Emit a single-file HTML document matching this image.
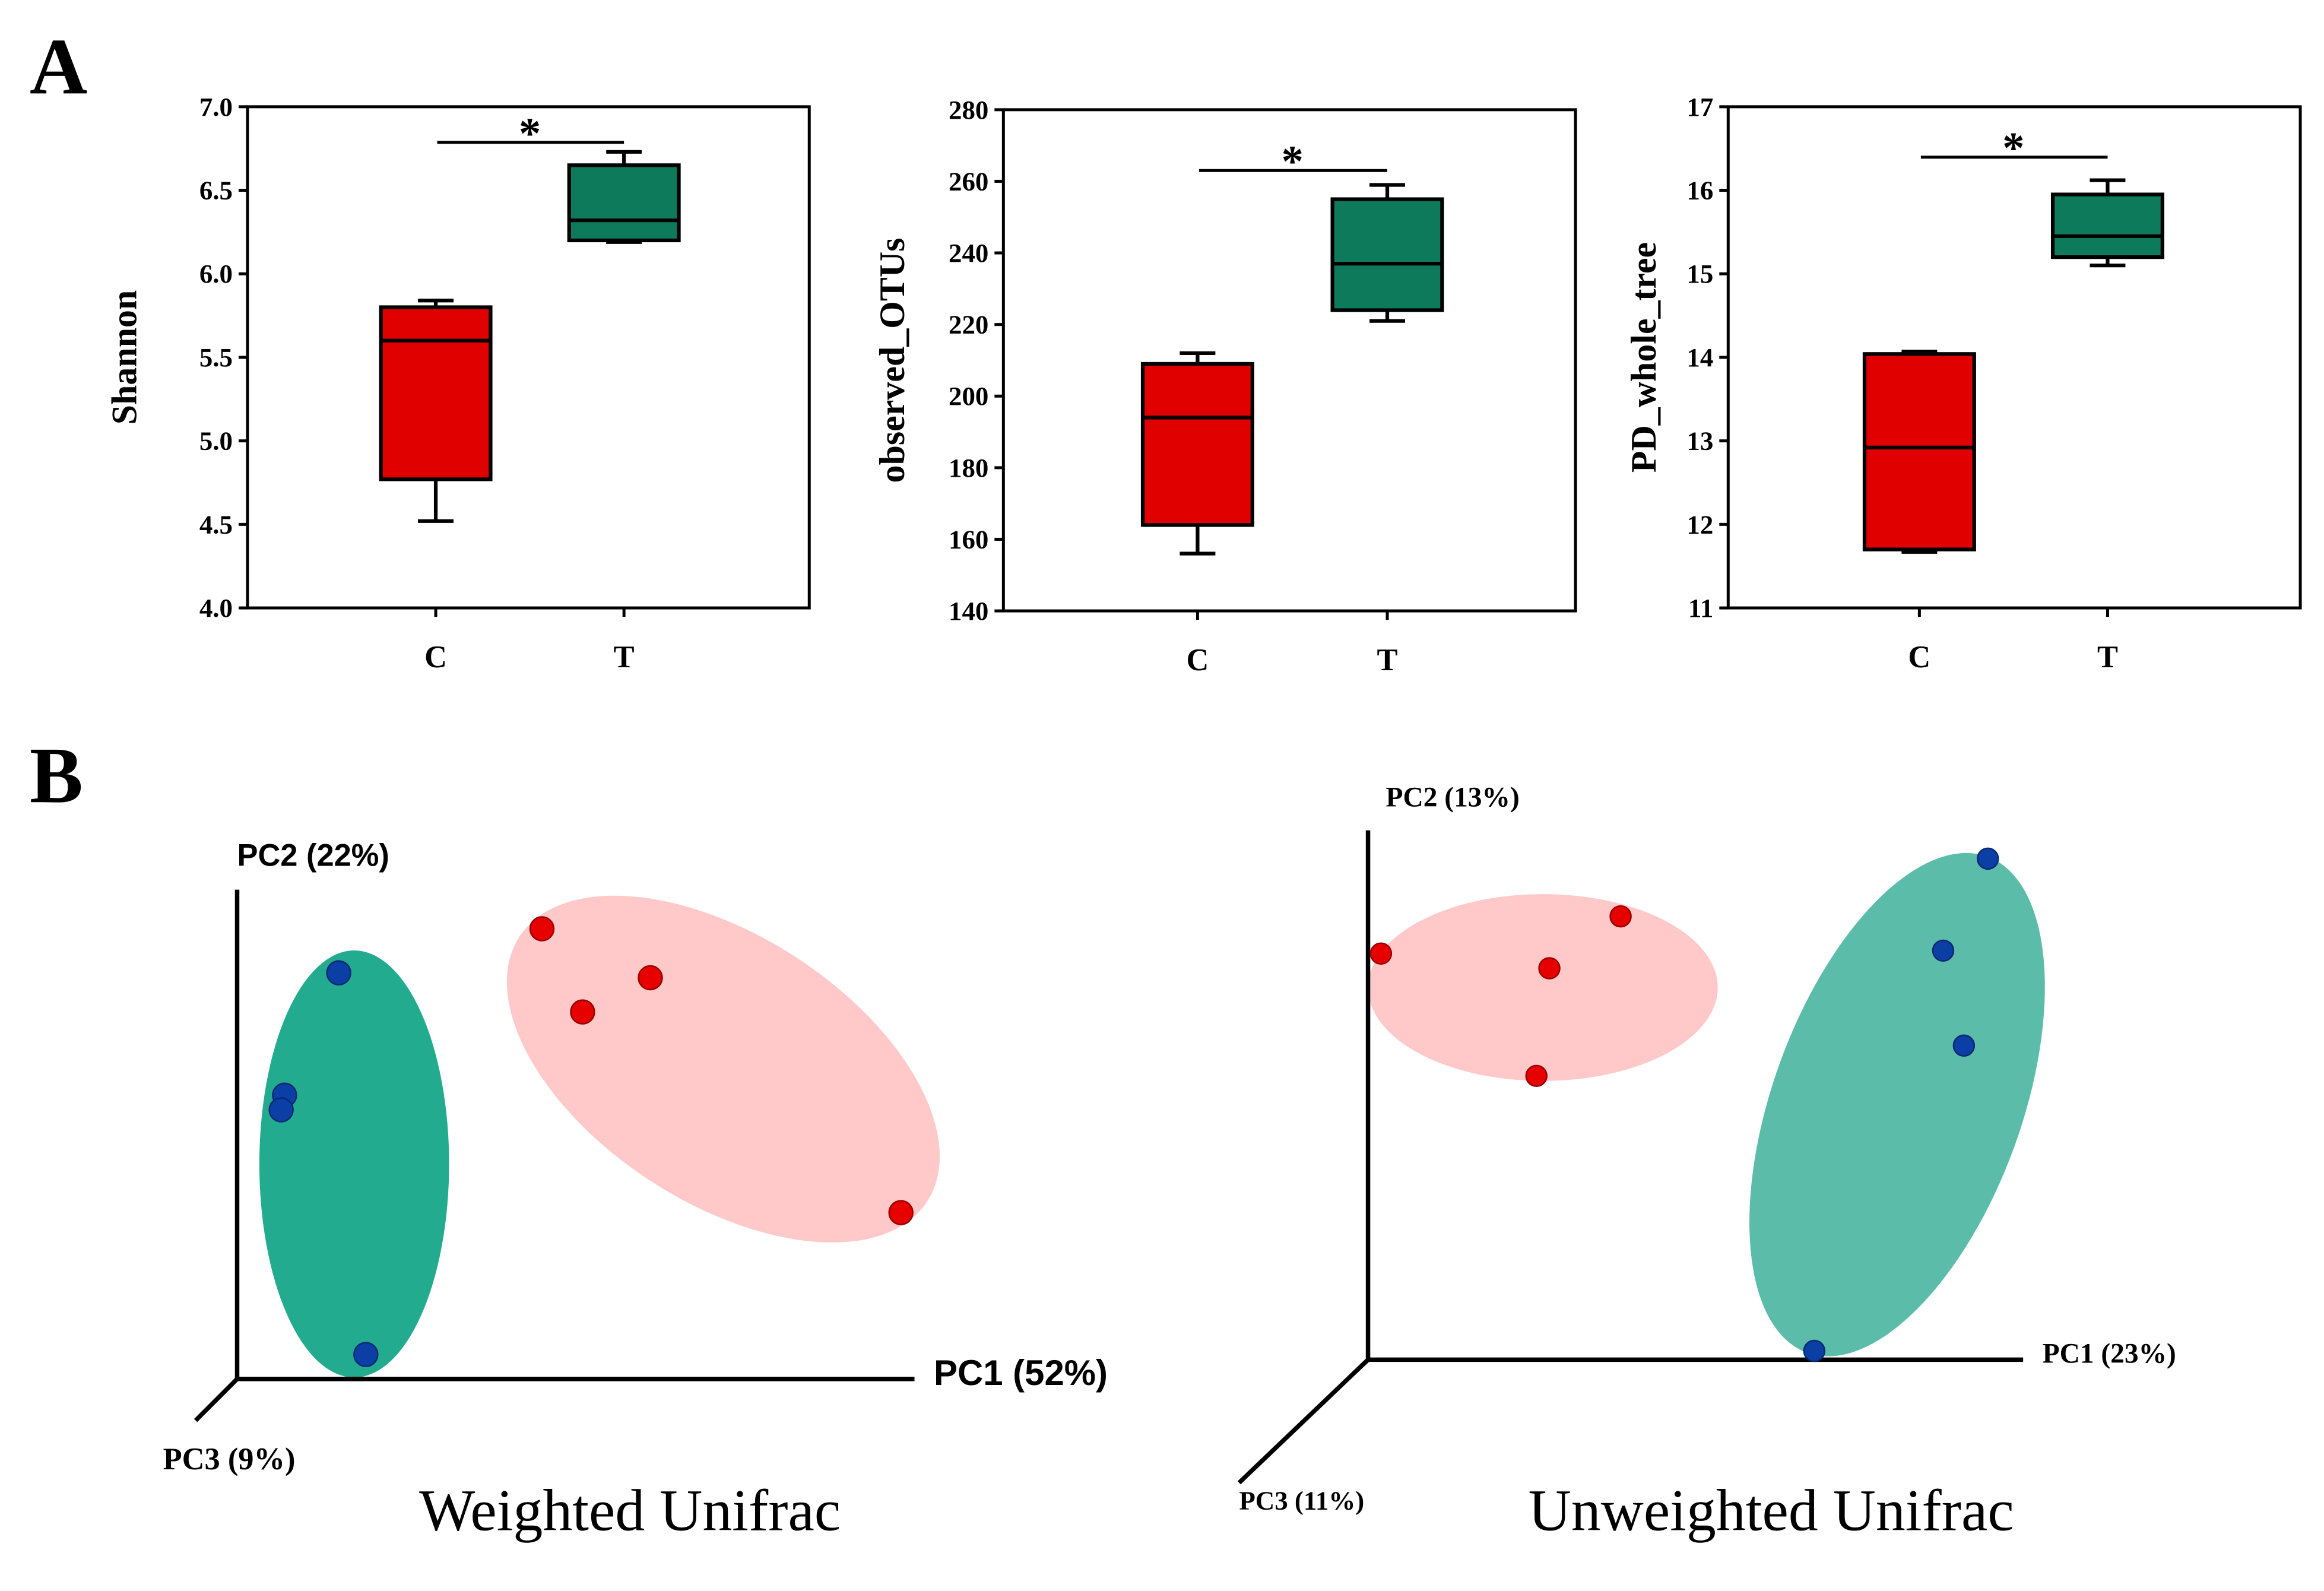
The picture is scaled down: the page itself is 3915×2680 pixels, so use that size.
<!DOCTYPE html>
<html><head><meta charset="utf-8"><style>
html,body{margin:0;padding:0;background:#fff}
svg{display:block}
svg{font-family:"Liberation Serif",serif}
</style></head><body>
<svg id="fig" width="3915" height="2680" viewBox="0 0 1568 1073" preserveAspectRatio="none" xmlns="http://www.w3.org/2000/svg">
<text x="20" y="63" font-size="54" font-weight="bold">A</text>
<text x="20" y="541" font-size="54" font-weight="bold">B</text>
<g id="boxes"></g>
<g id="pca"></g>
</svg>
<script>
const NS="http://www.w3.org/2000/svg";
function mk(parent,tag,attrs,txt){const e=document.createElementNS(NS,tag);for(const k in attrs)e.setAttribute(k,attrs[k]);if(txt!==undefined)e.textContent=txt;parent.appendChild(e);return e;}

// ---- Box plot data ----
const groups=["C","T"];
const shannonStats=[[4.52,4.77,5.60,5.80,5.84],[6.19,6.20,6.32,6.65,6.73]];
const otuStats=[[156,164,194,209,212],[221,224,237,255,259]];
const pdStats=[[11.67,11.70,12.92,14.04,14.07],[15.10,15.20,15.45,15.95,16.12]];
const shannonTicks=["4.0","4.5","5.0","5.5","6.0","6.5","7.0"];
const otuTicks=["140","160","180","200","220","240","260","280"];
const pdTicks=["11","12","13","14","15","16","17"];
const boxColors=["#e00000","#0e7a5c"];

const panels=[
 {name:"shannon",x0:167,x1:546,y0:72,y1:410,ticks:shannonTicks,stats:shannonStats,title:"Shannon",cx:[294,421],sig:96,tx:80},
 {name:"observed-otus",x0:677,x1:1063,y0:74,y1:412,ticks:otuTicks,stats:otuStats,title:"observed_OTUs",cx:[808,936],sig:115,tx:598},
 {name:"pd-whole-tree",x0:1166,x1:1552,y0:72,y1:410,ticks:pdTicks,stats:pdStats,title:"PD_whole_tree",cx:[1295,1422],sig:106,tx:1105}
];
const gB=document.getElementById("boxes");
panels.forEach(p=>{
 const g=mk(gB,"g",{});
 
 
 const lo=+p.ticks[0],hi=+p.ticks[p.ticks.length-1];
 const y=v=>p.y1-(v-lo)/(hi-lo)*(p.y1-p.y0);
 const fr=mk(g,"rect",{x:p.x0,y:p.y0,width:p.x1-p.x0,height:p.y1-p.y0,fill:"none",stroke:"#000","stroke-width":2});
 
 
 p.ticks.forEach(t=>{
  const yy=y(+t);
  mk(g,"line",{x1:p.x0-6,x2:p.x0,y1:yy,y2:yy,stroke:"#000","stroke-width":2});
  const tl=mk(g,"text",{x:p.x0-10,y:yy+6,"font-size":18,"font-weight":"bold","text-anchor":"end"},t);
  
  
 });
 const ttl=mk(g,"text",{x:0,y:0,"font-size":24,"font-weight":"bold","text-anchor":"middle",transform:`translate(${p.tx+12},${(p.y0+p.y1)/2}) rotate(-90)`},p.title);
 
 
 groups.forEach((gr,i)=>{
  const cx=p.cx[i],s=p.stats[i],w=37;
  mk(g,"line",{x1:cx,x2:cx,y1:p.y1,y2:p.y1+6,stroke:"#000","stroke-width":2});
  const xl=mk(g,"text",{x:cx,y:p.y1+40,"font-size":21,"font-weight":"bold","text-anchor":"middle"},gr);
  
  
  mk(g,"line",{x1:cx,x2:cx,y1:y(s[0]),y2:y(s[4]),stroke:"#000","stroke-width":2.5});
  mk(g,"line",{x1:cx-12,x2:cx+12,y1:y(s[0]),y2:y(s[0]),stroke:"#000","stroke-width":2.5});
  mk(g,"line",{x1:cx-12,x2:cx+12,y1:y(s[4]),y2:y(s[4]),stroke:"#000","stroke-width":2.5});
  const b=mk(g,"rect",{x:cx-w,y:y(s[3]),width:2*w,height:y(s[1])-y(s[3]),fill:boxColors[i],stroke:"#000","stroke-width":2.5});
  
  
  mk(g,"line",{x1:cx-w,x2:cx+w,y1:y(s[2]),y2:y(s[2]),stroke:"#000","stroke-width":2.5});
 });
 const sl=mk(g,"line",{x1:p.cx[0]+1,x2:p.cx[1],y1:p.sig,y2:p.sig,stroke:"#000","stroke-width":2});
 
 
 const st=mk(g,"text",{x:(p.cx[0]+p.cx[1])/2,y:p.sig+4,"font-size":30,"font-weight":"bold","text-anchor":"middle"},"*");
 
 
});

// ---- PCoA data (normalized plot coordinates along PC1 / PC2) ----
const wRedPC1=[0.45,0.51,0.61,0.98];
const wRedPC2=[0.92,0.75,0.82,0.34];
const wBluePC1=[0.15,0.07,0.065,0.19];
const wBluePC2=[0.83,0.58,0.55,0.05];
const uRedPC1=[0.02,0.28,0.39,0.26];
const uRedPC2=[0.83,0.80,0.906,0.58];
const uBluePC1=[0.957,0.888,0.92,0.689];
const uBluePC2=[1.024,0.836,0.642,0.018];

const plots=[
 {name:"weighted-unifrac",ox:160,oy:930,w:457,h:330,top:600,end:617,diag:[132,958],
  pc1:"PC1 (52%)",pc2:"PC2 (22%)",pc3:"PC3 (9%)",sans:true,title:"Weighted Unifrac",tx:425,
  red:[wRedPC1,wRedPC2],blue:[wBluePC1,wBluePC2],
  ell:[{cx:488,cy:721,rx:164,ry:90,rot:33,fill:"#ffc9c9"},{cx:239,cy:785,rx:64,ry:144,rot:0,fill:"#22ab8f"}]},
 {name:"unweighted-unifrac",ox:923,oy:917,w:437,h:330,top:560,end:1365,diag:[836,1000],
  pc1:"PC1 (23%)",pc2:"PC2 (13%)",pc3:"PC3 (11%)",sans:false,title:"Unweighted Unifrac",tx:1195,
  red:[uRedPC1,uRedPC2],blue:[uBluePC1,uBluePC2],
  ell:[{cx:1041,cy:666,rx:118,ry:63,rot:0,fill:"#ffc9c9"},{cx:1280,cy:745,rx:84,ry:178,rot:20,fill:"#5bbda9"}]}
];
const gP=document.getElementById("pca");
plots.forEach(p=>{
 const g=mk(gP,"g",{});
 
 
 const xs=v=>p.ox+v*p.w, ys=v=>p.oy-v*p.h;
 p.ell.forEach((e,i)=>{
  const el=mk(g,"ellipse",{cx:e.cx,cy:e.cy,rx:e.rx,ry:e.ry,fill:e.fill,transform:`rotate(${e.rot} ${e.cx} ${e.cy})`});
  
  
 });
 mk(g,"line",{x1:p.ox,y1:p.oy,x2:p.ox,y2:p.top,stroke:"#000","stroke-width":3});
 mk(g,"line",{x1:p.ox,y1:p.oy,x2:p.end,y2:p.oy,stroke:"#000","stroke-width":3});
 mk(g,"line",{x1:p.ox,y1:p.oy,x2:p.diag[0],y2:p.diag[1],stroke:"#000","stroke-width":3});
 const l1=mk(g,"text",{x:p.end+13,y:p.oy+(p.sans?4:2),"font-size":p.sans?24:19,"font-weight":"bold"},p.pc1);
 if(p.sans) l1.setAttribute("style",'font-family:"Liberation Sans",sans-serif');
  
 const l2=mk(g,"text",{x:p.ox+(p.sans?0:12),y:p.top-16,"font-size":p.sans?21:19,"font-weight":"bold"},p.pc2);
 if(p.sans) l2.setAttribute("style",'font-family:"Liberation Sans",sans-serif');
  
 const l3=mk(g,"text",{x:p.diag[0]-(p.sans?22:0),y:p.diag[1]+(p.sans?33:18),"font-size":p.sans?21:18,"font-weight":"bold"},p.pc3);
  
 const t=mk(g,"text",{x:p.tx,y:1032,"font-size":40,"text-anchor":"middle"},p.title);
  
 [["red","#e60000"],["blue","#0b3fa6"]].forEach(([k,c])=>{
  p[k][0].forEach((v,i)=>{
   const pt=mk(g,"circle",{cx:xs(v),cy:ys(p[k][1][i]),r:p.sans?8:7,fill:c,stroke:k=="red"?"#900":"#062a70","stroke-width":1});
   
   
  });
 });
});
</script>
</body></html>
